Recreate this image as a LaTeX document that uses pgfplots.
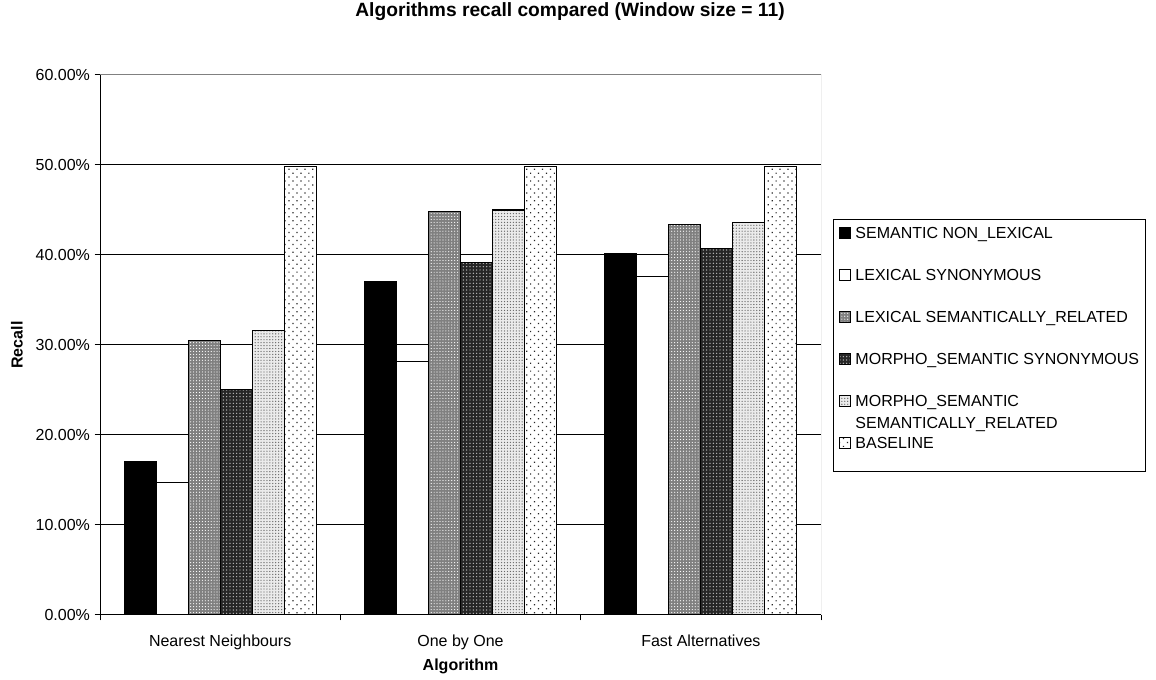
\documentclass[border=0pt]{standalone}
\usepackage{fontspec}
\setmainfont{Liberation Sans}
\usepackage{pgfplots}
\usepackage{pgfplotstable}
\pgfplotsset{compat=1.18}
\usetikzlibrary{patterns,patterns.meta}

\pgfplotstableread{
x  sem   lexsyn  lexsem  morsyn  morsem  base
0  17.0  14.7    30.5    25.1    31.6    49.8
1  37.0  28.2    44.8    39.2    45.0    49.8
2  40.2  37.6    43.4    40.7    43.6    49.8
}\recall

\begin{document}
\begin{tikzpicture}
\useasboundingbox (0,0) rectangle (867pt,510pt);
\begin{axis}[
  at={(75pt,48.75pt)}, anchor=south west,
  scale only axis, width=540.75pt, height=405pt,
  xmin=-0.5, xmax=2.5, ymin=0, ymax=60,
  ybar=0pt, bar width=0.1333,
  axis lines*=left,
  axis line style={black, line width=0.75pt, -},
  tick align=outside,
  major tick length=4pt,
  tick style={black, line width=0.75pt},
  xtick={-0.5,0.5,1.5,2.5}, xticklabels={},
  extra x ticks={0,1,2},
  extra x tick labels={Nearest Neighbours, One by One, Fast Alternatives},
  extra x tick style={major tick length=0pt, xticklabel style={yshift=-11.5pt}},
  ytick={0,10,...,60},
  /pgf/number format/assume math mode=true,
  yticklabel={\pgfmathprintnumber[fixed,fixed zerofill,precision=2]{\tick}\%},
  ymajorgrids, grid style={black, line width=0.75pt},
  tick label style={font=\fontsize{12}{14}\selectfont},
  xlabel={Algorithm}, ylabel={Recall},
  xlabel style={font=\bfseries\fontsize{12}{14}\selectfont, at={(axis description cs:0.5,0)}, anchor=base, yshift=-42pt},
  ylabel style={font=\bfseries\fontsize{12}{14}\selectfont, at={(axis description cs:-0.1151,0.5)}, anchor=center},
  title={Algorithms recall compared (Window size = 11)},
  title style={font=\bfseries\fontsize{14.4}{17}\selectfont, at={(axis description cs:0.6519,1.0926)}, anchor=base},
  legend image code/.code={\draw[#1] (0pt,0pt) rectangle (8.25pt,8.25pt);},
  legend style={at={(rel axis cs:1.01664,0.7333)}, anchor=north west,
    draw=black, line width=0.6pt, fill=white,
    font=\fontsize{12}{14}\selectfont,
    nodes={inner sep=0pt, text height=9pt, text depth=2pt},
    cells={anchor=base west},
    row sep=20.5pt, column sep=3pt, inner xsep=4.5pt, inner ysep=5pt},
]
\addplot[draw=black, line width=0.8pt, fill=black] table[x=x,y=sem] {\recall};
\addlegendentry{SEMANTIC NON\_LEXICAL}
\addplot[draw=black, line width=0.8pt, fill=white] table[x=x,y=lexsyn] {\recall};
\addlegendentry{LEXICAL SYNONYMOUS}
\addplot[draw=black, line width=0.8pt, fill=black!50,
  postaction={pattern color=white, pattern={Dots[distance=2.2pt,radius=0.45pt]}}] table[x=x,y=lexsem] {\recall};
\addlegendentry{LEXICAL SEMANTICALLY\_RELATED}
\addplot[draw=black, line width=0.8pt, fill=black!85,
  postaction={pattern color=black!25, pattern={Dots[distance=2.5pt,radius=0.55pt]}}] table[x=x,y=morsyn] {\recall};
\addlegendentry{MORPHO\_SEMANTIC SYNONYMOUS}
\addplot[draw=black, line width=0.8pt, fill=black!8,
  postaction={pattern color=black!60, pattern={Dots[distance=2.2pt,radius=0.5pt]}}] table[x=x,y=morsem] {\recall};
\addlegendentry{\vtop{\baselineskip=17pt\hbox{MORPHO\_SEMANTIC}\hbox{SEMANTICALLY\_RELATED}}}
\addplot[draw=black, line width=0.8pt, fill=white,
  postaction={pattern color=black!85, pattern={Dots[distance=4.2pt,radius=0.65pt,angle=45]}}] table[x=x,y=base] {\recall};
\addlegendentry[text depth=12.5pt]{BASELINE}
\draw[black!50, line width=0.75pt] (rel axis cs:0,1) -- (rel axis cs:1,1) -- (rel axis cs:1,0);
\end{axis}
\end{tikzpicture}
\end{document}
